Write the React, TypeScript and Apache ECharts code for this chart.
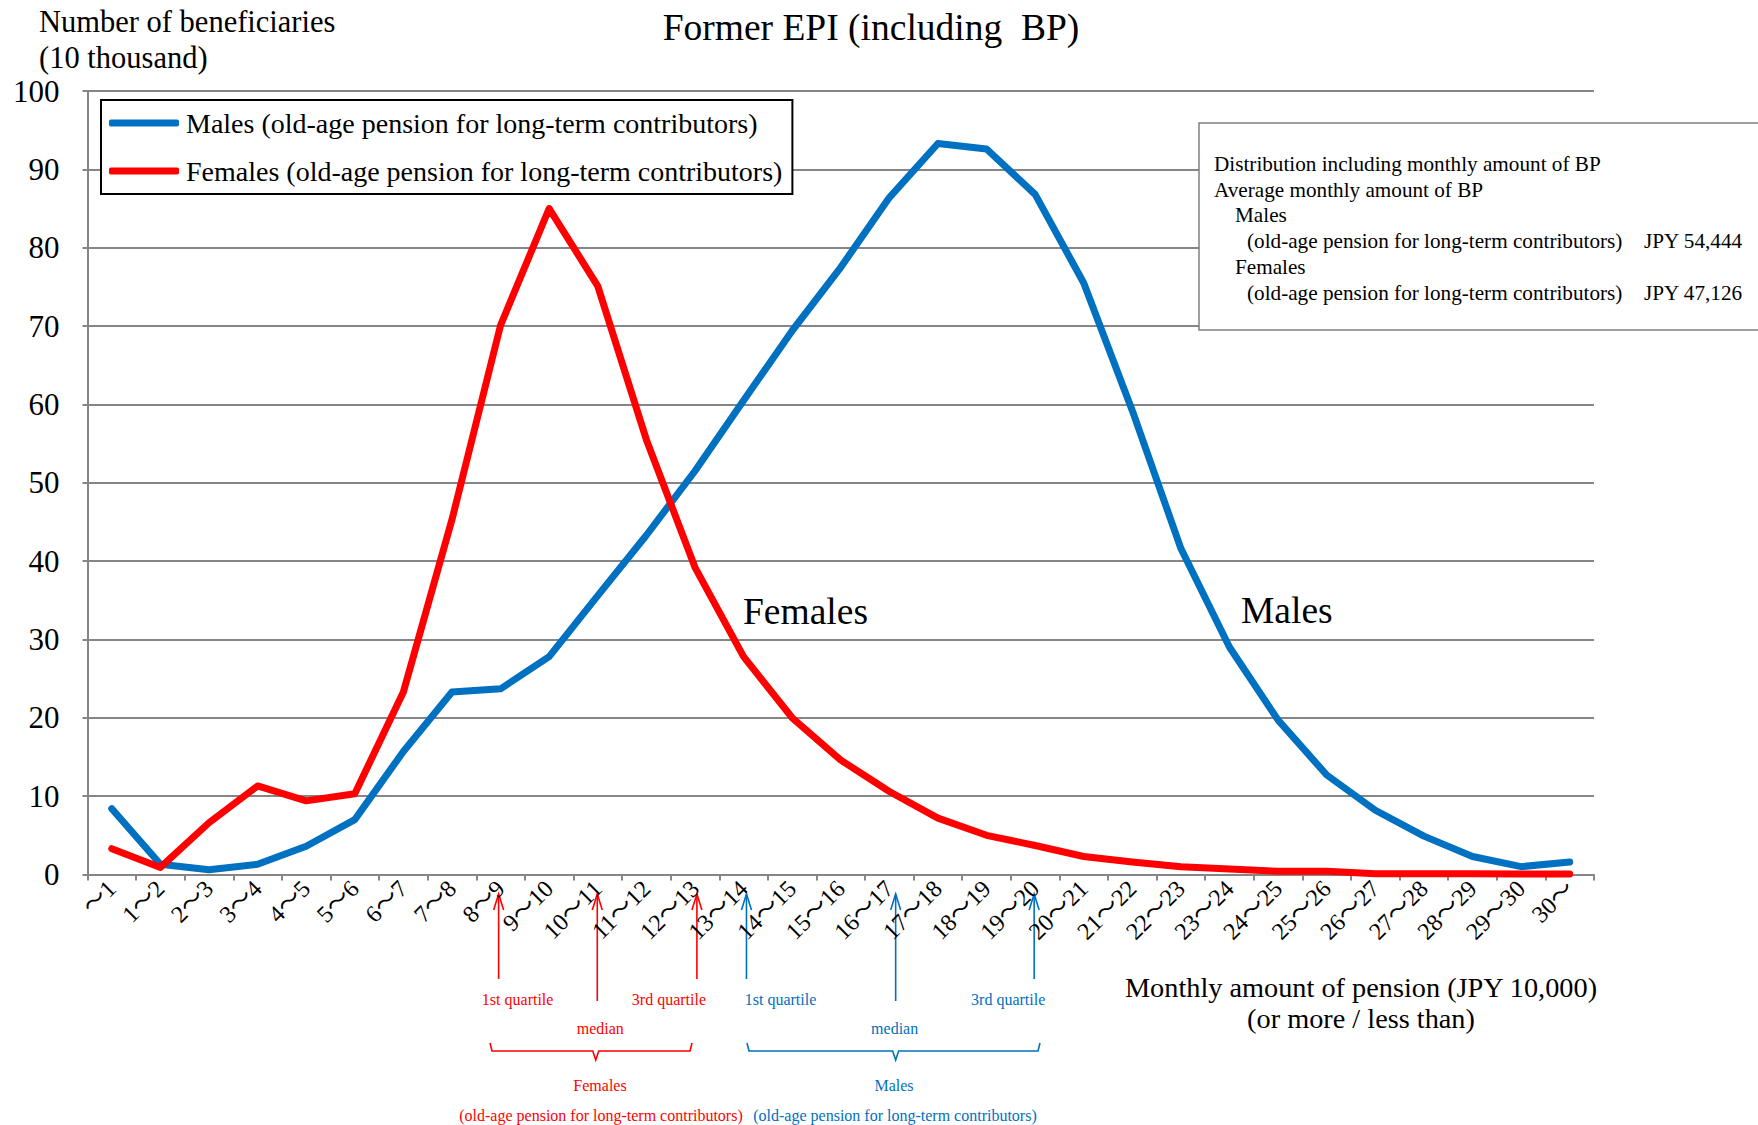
import React, { useEffect, useRef } from "react";
import * as echarts from "echarts";

const categories = [
  "〜1", "1〜2", "2〜3", "3〜4", "4〜5", "5〜6", "6〜7", "7〜8", "8〜9", "9〜10",
  "10〜11", "11〜12", "12〜13", "13〜14", "14〜15", "15〜16", "16〜17", "17〜18", "18〜19", "19〜20",
  "20〜21", "21〜22", "22〜23", "23〜24", "24〜25", "25〜26", "26〜27", "27〜28", "28〜29", "29〜30", "30〜",
];
const males = [8.4, 1.3, 0.6, 1.3, 3.6, 7.0, 15.7, 23.3, 23.7, 27.8, 35.6, 43.3, 51.5, 60.5, 69.4, 77.5, 86.4, 93.3, 92.6, 86.8, 75.5, 59.2, 41.6, 29.0, 19.7, 12.7, 8.2, 4.9, 2.3, 1.0, 1.6];
const females = [3.3, 0.9, 6.6, 11.3, 9.4, 10.3, 23.3, 45.3, 70.1, 85.0, 75.1, 55.5, 39.2, 27.8, 20.0, 14.6, 10.6, 7.2, 5.0, 3.7, 2.3, 1.6, 1.0, 0.7, 0.4, 0.4, 0.1, 0.1, 0.1, 0.05, 0.05];
const yTicks = { min: 0, max: 100, interval: 10 };
// quartile positions expressed in category index units
const femaleQuartiles = [7.96, 9.99, 12.04];
const maleQuartiles = [13.06, 16.13, 18.98];
const maleName = "Males (old-age pension for long-term contributors)";
const femaleName = "Females (old-age pension for long-term contributors)";
const boxLines = [
  "Distribution including monthly amount of BP",
  "Average monthly amount of BP",
  "Males",
  "(old-age pension for long-term contributors)",
  "Females",
  "(old-age pension for long-term contributors)",
];
const boxAmounts = ["JPY 54,444", "JPY 47,126"];

const SERIF = "'Liberation Serif', 'Times New Roman', 'Noto Sans CJK JP', serif";
const BLUE = "#0070C0";
const RED = "#FF0000";
const GRAY = "#868686";

export default function App() {
  const ref = useRef<HTMLDivElement>(null);
  useEffect(() => {
    const chart = echarts.init(ref.current!, null, { renderer: "svg" });
    chart.setOption({
      animation: false,
      backgroundColor: "#ffffff",
      title: {
        text: "Former EPI (including  BP)",
        left: 866,
        top: 4,
        textAlign: "center",
        textStyle: { fontFamily: SERIF, fontSize: 37.5, fontWeight: "normal", color: "#000" },
      },
      legend: {
        orient: "vertical",
        left: 101,
        top: 100,
        padding: [7, 10, 7, 8],
        itemGap: 16,
        itemWidth: 70,
        itemHeight: 7,
        borderColor: "#000",
        borderWidth: 2,
        backgroundColor: "#fff",
        icon: "roundRect",
        textStyle: { fontFamily: SERIF, fontSize: 28, color: "#000", lineHeight: 32, padding: [0, 0, 0, 2] },
        data: [maleName, femaleName],
        z: 10,
      },
      grid: { left: 87.5, right: 164, top: 91, bottom: 250.5, containLabel: false },
      xAxis: {
        type: "category",
        data: categories,
        boundaryGap: true,
        axisLine: { show: true, lineStyle: { color: GRAY, width: 2 } },
        axisTick: { show: true, length: 6, lineStyle: { color: GRAY, width: 2 } },
        axisLabel: {
          rotate: 45,
          margin: 10,
          interval: 0,
          fontFamily: SERIF,
          fontSize: 24,
          color: "#000",
        },
        splitLine: { show: false },
      },
      yAxis: {
        type: "value",
        min: yTicks.min,
        max: yTicks.max,
        interval: yTicks.interval,
        axisLine: { show: true, lineStyle: { color: GRAY, width: 2 } },
        axisTick: { show: true, length: 5, lineStyle: { color: GRAY, width: 2 } },
        axisLabel: { fontFamily: SERIF, fontSize: 31, color: "#000", margin: 28 },
        splitLine: { show: true, lineStyle: { color: GRAY, width: 2 } },
      },
      series: [
        {
          name: maleName,
          type: "line",
          data: males,
          symbol: "none",
          color: BLUE,
          lineStyle: { color: BLUE, width: 7, cap: "round", join: "round" },
        },
        {
          name: femaleName,
          type: "line",
          data: females,
          symbol: "none",
          color: RED,
          lineStyle: { color: RED, width: 7, cap: "round", join: "round" },
        },
      ],
    });

    const p0 = chart.convertToPixel({ xAxisIndex: 0 }, 0) as number;
    const p1 = chart.convertToPixel({ xAxisIndex: 0 }, 1) as number;
    const px = (i: number) => p0 + (p1 - p0) * i;

    const arrowTop = 894;
    const arrow = (x: number, bottom: number, color: string) => [
      { type: "line", shape: { x1: x, y1: bottom, x2: x, y2: arrowTop }, style: { stroke: color, lineWidth: 1.6 } },
      {
        type: "polyline",
        shape: { points: [[x - 5, arrowTop + 16], [x, arrowTop], [x + 5, arrowTop + 16]] },
        style: { stroke: color, lineWidth: 1.6, fill: null },
      },
    ];
    const txt = (text: string, x: number, y: number, size: number, color: string, align = "center") => ({
      type: "text",
      x,
      y,
      style: {
        text,
        fill: color,
        fontFamily: SERIF,
        fontSize: size,
        textAlign: align,
        textVerticalAlign: "middle",
      },
    });
    const bracket = (x1: number, x2: number, xc: number, color: string) => ({
      type: "polyline",
      shape: {
        points: [[x1, 1043], [x1 + 2, 1051], [xc - 3, 1051], [xc, 1060], [xc + 3, 1051], [x2 - 2, 1051], [x2, 1043]],
      },
      style: { stroke: color, lineWidth: 1.6, fill: null },
    });

    const fq = femaleQuartiles.map(px);
    const mq = maleQuartiles.map(px);
    const fc = (px(femaleQuartiles[0]) + px(femaleQuartiles[2])) / 2;

    const graphic: any[] = [
      // y axis name
      txt("Number of beneficiaries", 39, 22, 30.5, "#000", "left"),
      txt("(10 thousand)", 39, 58, 30.5, "#000", "left"),
      // x axis name
      txt("Monthly amount of pension (JPY 10,000)", 1361, 987, 28.3, "#000"),
      txt("(or more / less than)", 1361, 1018, 28.3, "#000"),
      // in-chart labels
      txt("Females", 743, 611, 37.5, "#000", "left"),
      txt("Males", 1241, 610, 37.5, "#000", "left"),
      // info box
      {
        type: "rect",
        shape: { x: 1199, y: 123, width: 620, height: 207 },
        style: { fill: "#fff", stroke: "#808080", lineWidth: 1.5 },
        z: 5,
      },
      ...[
        [boxLines[0], 1214, 164],
        [boxLines[1], 1214, 189.5],
        [boxLines[2], 1235, 215],
        [boxLines[3], 1247, 241],
        [boxLines[4], 1235, 267],
        [boxLines[5], 1247, 293],
      ].map(([t, x, y]) => ({ ...txt(t as string, x as number, y as number, 21.2, "#000", "left"), z: 6 })),
      { ...txt(boxAmounts[0], 1644, 241, 21.2, "#000", "left"), z: 6 },
      { ...txt(boxAmounts[1], 1644, 293, 21.2, "#000", "left"), z: 6 },
      // arrows
      ...arrow(fq[0], 979, RED),
      ...arrow(fq[1], 1001, RED),
      ...arrow(fq[2], 979, RED),
      ...arrow(mq[0], 979, BLUE),
      ...arrow(mq[1], 1001, BLUE),
      ...arrow(mq[2], 979, BLUE),
      // quartile labels
      txt("1st quartile", fq[0] + 19, 999, 16, RED),
      txt("median", fq[1] + 3, 1028, 16, RED),
      txt("3rd quartile", fq[2] - 28, 999, 16, RED),
      txt("1st quartile", mq[0] + 34, 999, 16, BLUE),
      txt("median", mq[1] - 1, 1028, 16, BLUE),
      txt("3rd quartile", mq[2] - 26, 999, 16, BLUE),
      bracket(490, 692, fc - 2, RED),
      bracket(747, 1040, mq[1], BLUE),
      txt("Females", 600, 1085, 16, RED),
      txt("(old-age pension for long-term contributors)", 601, 1115, 16, RED),
      txt("Males", 894, 1085, 16, BLUE),
      txt("(old-age pension for long-term contributors)", 895, 1115, 16, BLUE),
    ];
    chart.setOption({ graphic });
    return () => chart.dispose();
  }, []);
  return (
    <div
      ref={ref}
      style={{ position: "fixed", left: 0, top: 0, width: 1758, height: 1125, background: "#fff" }}
    />
  );
}
